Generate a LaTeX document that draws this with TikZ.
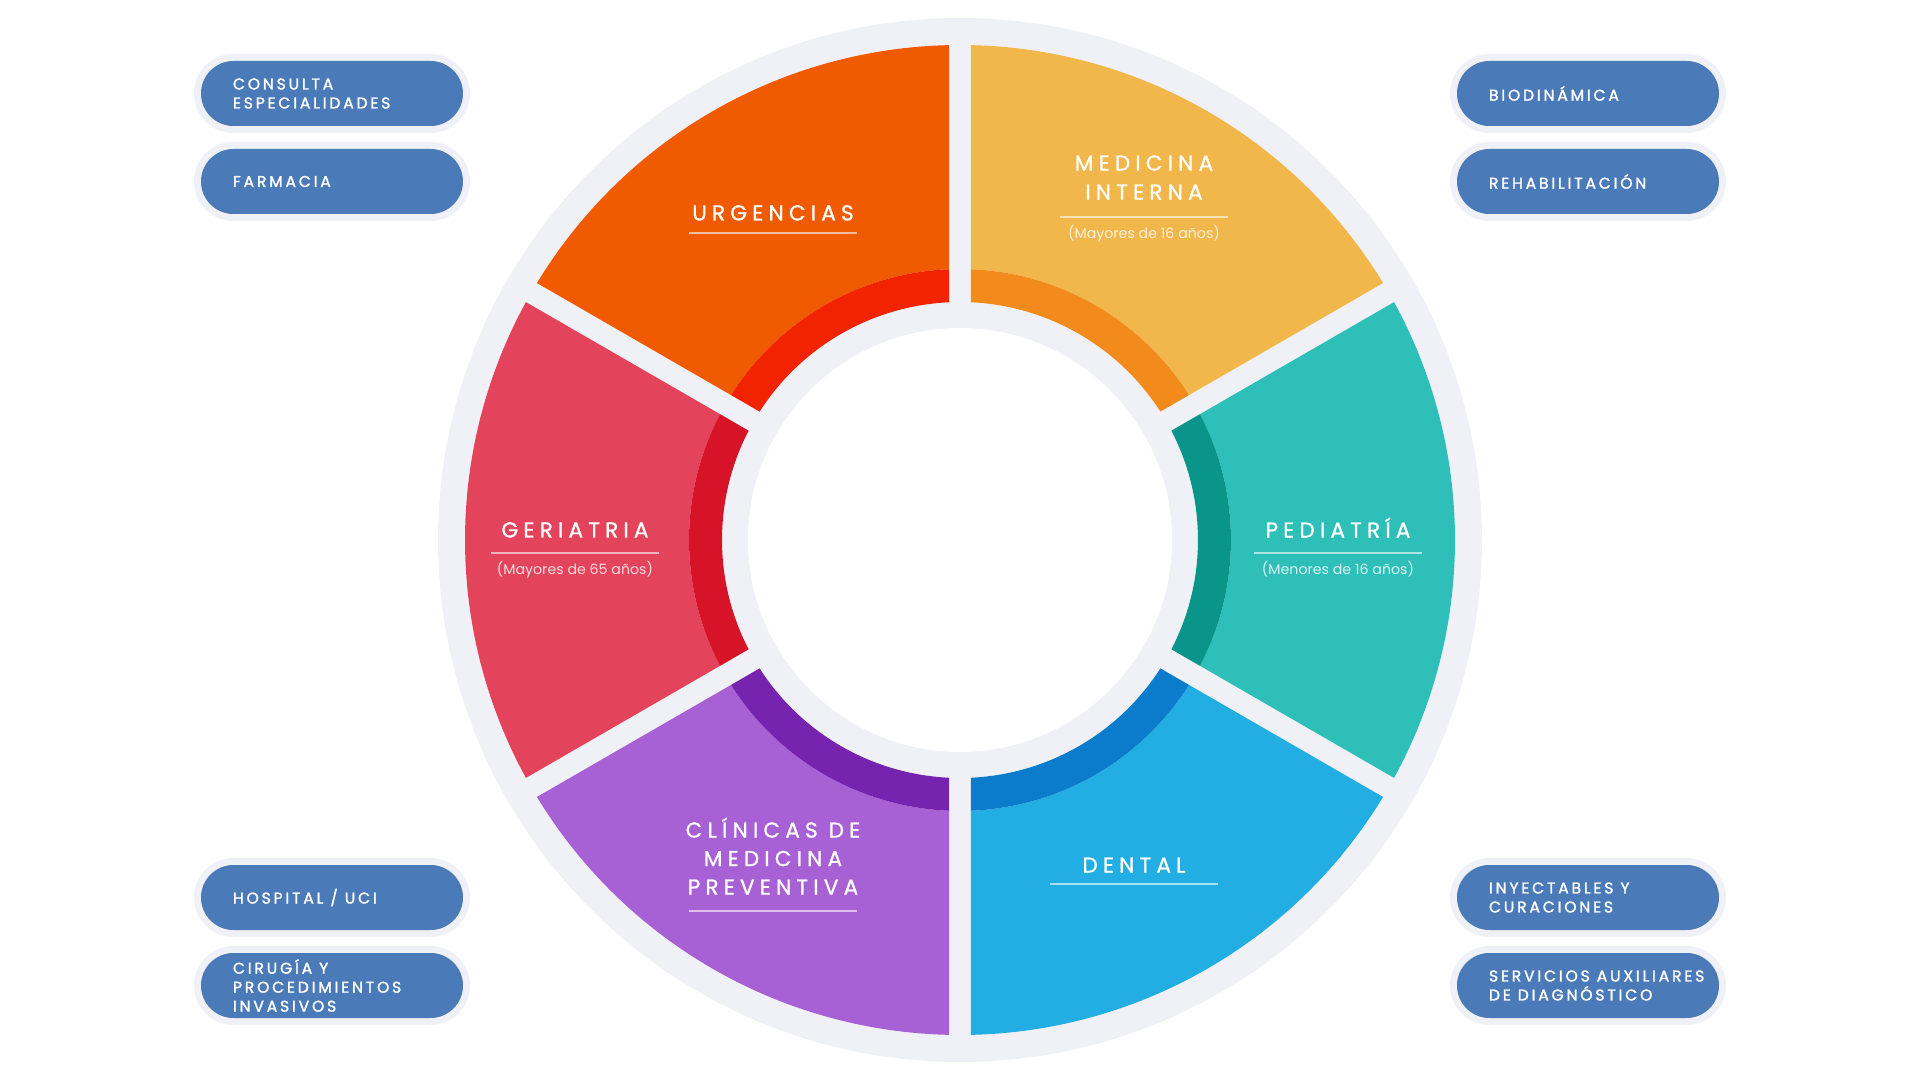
\documentclass[tikz,border=0pt]{standalone}
\usepackage{fontspec}
\setmainfont{Poppins}
\newfontfamily\titlefont[LetterSpace=24, FakeBold=1]{Poppins}
\newfontfamily\pillfont[LetterSpace=18, FakeBold=1.6]{Poppins}
\usetikzlibrary{positioning}

\definecolor{ringbg}{HTML}{F0F1F7}
\definecolor{pillblue}{HTML}{4A7AB8}
\definecolor{urgmain}{HTML}{F05A00}
\definecolor{urgband}{HTML}{F22300}
\definecolor{medmain}{HTML}{F2B74A}
\definecolor{medband}{HTML}{F28B1C}
\definecolor{pedmain}{HTML}{2EC0B8}
\definecolor{pedband}{HTML}{09958A}
\definecolor{denmain}{HTML}{23AEE3}
\definecolor{denband}{HTML}{0B7BCB}
\definecolor{climain}{HTML}{A861D5}
\definecolor{cliband}{HTML}{7623AF}
\definecolor{germain}{HTML}{E3445B}
\definecolor{gerband}{HTML}{D61327}

% ring piece: start angle, inner radius, outer radius, colour (gap 22 wide)
\newcommand{\ringseg}[4]{%
  \pgfmathsetmacro\dout{asin(11/#3)}%
  \pgfmathsetmacro\din{asin(11/#2)}%
  \fill[#4] (#1+\dout:#3) arc[start angle=#1+\dout, end angle=#1+60-\dout, radius=#3]
    -- (#1+60-\din:#2) arc[start angle=#1+60-\din, end angle=#1+\din, radius=#2] -- cycle;}

\begin{document}
\begin{tikzpicture}[x=0.5pt, y=0.5pt,
    segtitle/.style={text=white, font=\titlefont\fontsize{10.8}{14.5}\selectfont, align=center, inner sep=0pt, anchor=south},
    segsub/.style={text=white, text opacity=0.8, font=\fontsize{7.1}{8}\selectfont, inner sep=0pt, anchor=base},
    segrule/.style={draw=white, draw opacity=0.6, line width=0.75pt},
    pill/.style={fill=pillblue, rounded corners=16.25pt, minimum width=131pt, minimum height=32.5pt,
      preaction={draw=ringbg, line width=7pt}},
    pilltext/.style={text=white, font=\pillfont\fontsize{7.8}{9.5}\selectfont, align=left, inner sep=0pt}]
    \useasboundingbox (-960,-540) rectangle (960,540);

    % ring
    \fill[ringbg] (0,0) circle[radius=522];
    \ringseg{90}{271}{495}{urgmain}
    \ringseg{90}{238}{271}{urgband}
    \ringseg{30}{271}{495}{medmain}
    \ringseg{30}{238}{271}{medband}
    \ringseg{-30}{271}{495}{pedmain}
    \ringseg{-30}{238}{271}{pedband}
    \ringseg{-90}{271}{495}{denmain}
    \ringseg{-90}{238}{271}{denband}
    \ringseg{210}{271}{495}{climain}
    \ringseg{210}{238}{271}{cliband}
    \ringseg{150}{271}{495}{germain}
    \ringseg{150}{238}{271}{gerband}
    \fill[white] (0,0) circle[radius=212];

    % segment titles
    \node[segtitle] (urg) at (-187,319) {URGENCIAS};
    \draw[segrule] ([xshift=-42pt, yshift=-6pt]urg.south) -- ([xshift=42pt, yshift=-6pt]urg.south);

    \node[segtitle] (med) at (184,340) {MEDICINA\\INTERNA};
    \draw[segrule] ([xshift=-42pt, yshift=-8.5pt]med.south) -- ([xshift=42pt, yshift=-8.5pt]med.south);
    \node[segsub] (med-sub) at ([yshift=-19.5pt]med.south) {(Mayores de 16 años)};

    \node[segtitle] (ped) at (378,2) {PEDIATRÍA};
    \draw[segrule] ([xshift=-42pt, yshift=-7.5pt]ped.south) -- ([xshift=42pt, yshift=-7.5pt]ped.south);
    \node[segsub] (ped-sub) at ([yshift=-18.5pt]ped.south) {(Menores de 16 años)};

    \node[segtitle] (ger) at (-385,2) {GERIATRIA};
    \draw[segrule] ([xshift=-42pt, yshift=-7.5pt]ger.south) -- ([xshift=42pt, yshift=-7.5pt]ger.south);
    \node[segsub] (ger-sub) at ([yshift=-18.5pt]ger.south) {(Mayores de 65 años)};

    \node[segtitle] (den) at (174,-333) {DENTAL};
    \draw[segrule] ([xshift=-42pt, yshift=-5.5pt]den.south) -- ([xshift=42pt, yshift=-5.5pt]den.south);

    \node[segtitle, font=\titlefont\fontsize{10.8}{14.25}\selectfont] (cli) at (-187,-355) {CLÍNICAS DE\\MEDICINA\\PREVENTIVA};
    \draw[segrule] ([xshift=-42pt, yshift=-8pt]cli.south) -- ([xshift=42pt, yshift=-8pt]cli.south);

    % service pills
    \node[pill] (consulta) at (-628,446.5) {};
    \node[pilltext, right=16pt of consulta.west] (consulta-t) {CONSULTA\\ESPECIALIDADES};
    \node[pill] (farmacia) at (-628,358.5) {};
    \node[pilltext, right=16pt of farmacia.west] (farmacia-t) {FARMACIA};
    \node[pill] (hospital) at (-628,-357.5) {};
    \node[pilltext, right=16pt of hospital.west] (hospital-t) {HOSPITAL / UCI};
    \node[pill] (cirugia) at (-628,-445.5) {};
    \node[pilltext, right=16pt of cirugia.west] (cirugia-t) {CIRUGÍA Y\\PROCEDIMIENTOS\\INVASIVOS};

    \node[pill] (biodin) at (628,446.5) {};
    \node[pilltext, right=16pt of biodin.west] (biodin-t) {BIODINÁMICA};
    \node[pill] (rehab) at (628,358.5) {};
    \node[pilltext, right=16pt of rehab.west] (rehab-t) {REHABILITACIÓN};
    \node[pill] (inyect) at (628,-357.5) {};
    \node[pilltext, right=16pt of inyect.west] (inyect-t) {INYECTABLES Y\\CURACIONES};
    \node[pill] (servaux) at (628,-445.5) {};
    \node[pilltext, right=16pt of servaux.west] (servaux-t) {SERVICIOS AUXILIARES\\DE DIAGNÓSTICO};
\end{tikzpicture}
\end{document}
